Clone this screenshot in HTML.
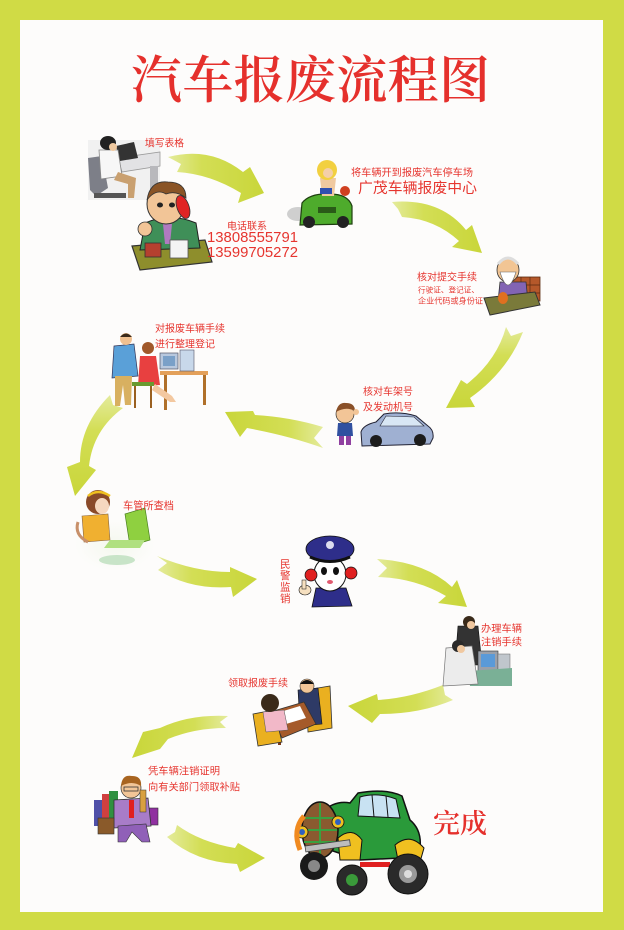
<!DOCTYPE html>
<html><head><meta charset="utf-8">
<style>
html,body{margin:0;padding:0;width:624px;height:930px;overflow:hidden;background:#d0db45;}
svg{position:absolute;left:0;top:0;}
.l{font-family:"Liberation Sans","WenQuanYi Zen Hei","Noto Sans CJK SC",sans-serif;fill:#e6352f;}
.t{font-family:"Liberation Serif","Noto Serif CJK SC",serif;fill:#e5302c;font-weight:600;}
</style></head><body>
<svg width="624" height="930" viewBox="0 0 624 930" xmlns="http://www.w3.org/2000/svg">
<defs>
<linearGradient id="ga" x1="0" y1="0" x2="1" y2="0"><stop offset="0" stop-color="#e4eb9c"/><stop offset="0.35" stop-color="#d3de55"/><stop offset="1" stop-color="#c9d63a"/></linearGradient>
<linearGradient id="gb" x1="1" y1="0" x2="0" y2="0"><stop offset="0" stop-color="#e4eb9c"/><stop offset="0.35" stop-color="#d3de55"/><stop offset="1" stop-color="#c9d63a"/></linearGradient>
<linearGradient id="gc" x1="0" y1="0" x2="0" y2="1"><stop offset="0" stop-color="#e4eb9c"/><stop offset="0.35" stop-color="#d3de55"/><stop offset="1" stop-color="#c9d63a"/></linearGradient>
<radialGradient id="sw" cx="0.5" cy="0.5" r="0.5"><stop offset="0" stop-color="#f4f8ee"/><stop offset="1" stop-color="#fdfcfb"/></radialGradient>
</defs>
<!-- frame -->
<rect x="0" y="0" width="624" height="930" fill="#d0db45"/>
<rect x="20" y="20" width="583" height="892" fill="#fdfcfb"/>

<!-- title -->
<text class="t" x="131" y="98" font-size="51" textLength="359" lengthAdjust="spacing">汽车报废流程图</text>

<!-- arrows -->
<path d="M168,157 Q210,146 243,172 L250,167 L264,193 L238,203 L241,193 Q210,174 177,172 L181,164 Z" fill="url(#ga)"/>
<path d="M392,202 Q440,198 466,230 L472,225 L482,253 L452,247 L459,241 Q435,219 402,217 L398,209 Z" fill="url(#ga)"/>
<path d="M506,327 Q497,360 467,384 L461,380 L446,408 L475,407 L470,398 Q507,372 523,332 L511,336 Z" fill="url(#gc)"/>
<path d="M323,427 Q290,417 255,415 L253,411 L225,412 L240,437 L247,428 Q290,436 323,448 L314,438 Z" fill="url(#gb)"/>
<path d="M110,395 Q80,425 80,462 L67,467 L75,496 L96,470 L89,466 Q93,430 123,408 L113,405 Z" fill="url(#gc)"/>
<path d="M157,556 Q195,572 230,572 L230,567 L257,579 L233,597 L231,587 Q190,590 158,570 L167,563 Z" fill="url(#ga)"/>
<path d="M377,559 Q425,562 452,587 L457,580 L467,607 L438,603 L446,596 Q415,578 378,577 L387,568 Z" fill="url(#ga)"/>
<path d="M443,685 Q410,698 378,700 L377,694 L348,706 L372,723 L380,714 Q420,714 453,700 L445,695 Z" fill="url(#gb)"/>
<path d="M228,716 Q190,714 160,728 L143,732 L132,758 L160,749 L168,739 Q195,728 226,728 L220,722 Z" fill="url(#gb)"/>
<path d="M177,825 Q200,842 235,848 L238,843 L265,858 L240,872 L237,864 Q195,862 167,837 L175,832 Z" fill="url(#ga)"/>

<!-- clipart 1: woman at computer -->
<g>
<rect x="88" y="140" width="72" height="60" fill="#f1f1f1"/>
<polygon points="118,158 160,152 160,166 122,172" fill="#e2e2e4" stroke="#9a9a9a" stroke-width="0.8"/>
<rect x="150" y="166" width="8" height="30" fill="#b8b8bc"/>
<polygon points="116,146 134,142 138,158 120,161" fill="#333"/>
<polygon points="88,158 102,156 108,188 96,196 90,190" fill="#7d7f88"/>
<rect x="94" y="193" width="32" height="5" fill="#555"/>
<path d="M99,150 L118,150 L122,176 L101,179 Z" fill="#f7f7f7" stroke="#888" stroke-width="0.8"/>
<path d="M118,172 L136,178 L134,198 L128,198 L128,184 L114,180 Z" fill="#c9a070"/>
<ellipse cx="108" cy="143" rx="8" ry="7" fill="#222"/>
<ellipse cx="113" cy="147" rx="4" ry="4" fill="#efc9a0"/>
</g>

<!-- clipart 2: man on phone -->
<g>
<polygon points="132,246 205,240 212,262 140,270" fill="#8e8e2c" stroke="#333" stroke-width="1.2"/>
<path d="M145,223 Q170,212 196,223 L200,248 L140,250 Z" fill="#3f8f58" stroke="#222" stroke-width="1"/>
<polygon points="163,224 172,224 170,244 165,244" fill="#b07ac0"/>
<ellipse cx="166" cy="204" rx="19" ry="20" fill="#f2c597" stroke="#333" stroke-width="1"/>
<path d="M147,200 Q150,180 168,182 Q186,182 186,198 Q176,190 166,194 Q156,188 147,200 Z" fill="#8a5426" stroke="#333" stroke-width="0.8"/>
<ellipse cx="160" cy="205" rx="3" ry="2.5" fill="#222"/>
<ellipse cx="172" cy="205" rx="3" ry="2.5" fill="#222"/>
<ellipse cx="183" cy="207" rx="6" ry="12" fill="#e02424" stroke="#333" stroke-width="0.8" transform="rotate(-20 183 207)"/>
<circle cx="145" cy="229" r="7" fill="#f2c597" stroke="#333" stroke-width="0.8"/>
<rect x="145" y="243" width="16" height="14" fill="#b5402f" stroke="#333" stroke-width="0.8"/>
<rect x="170" y="240" width="18" height="18" fill="#f4f4f4" stroke="#555" stroke-width="0.8"/>
</g>

<!-- clipart 3: car with girls -->
<g>
<ellipse cx="298" cy="214" rx="11" ry="7" fill="#cfcfcf"/>
<path d="M302,203 Q310,193 330,194 Q348,194 352,206 L352,224 L300,225 Z" fill="#4eab2c" stroke="#1f3f10" stroke-width="1.2"/>
<rect x="318" y="207" width="18" height="6" fill="#2a5a18"/>
<circle cx="309" cy="222" r="6" fill="#222"/>
<circle cx="343" cy="222" r="6" fill="#222"/>
<path d="M320,178 L336,178 L334,196 L322,196 Z" fill="#f0c9a0"/>
<rect x="320" y="188" width="12" height="6" fill="#3050b0"/>
<ellipse cx="327" cy="170" rx="10" ry="10" fill="#f2d040"/>
<ellipse cx="328" cy="173" rx="5" ry="5" fill="#f4cfa8"/>
<circle cx="345" cy="191" r="5" fill="#d04020"/>
</g>

<!-- clipart 4: old man at desk -->
<g>
<rect x="512" y="277" width="28" height="24" fill="#b5582a" stroke="#5a2a10" stroke-width="0.8"/>
<path d="M512,285 H540 M512,293 H540 M521,277 V301 M530,277 V301" stroke="#5a2a10" stroke-width="0.7"/>
<path d="M500,282 L526,282 L528,302 L498,302 Z" fill="#8264b4" stroke="#333" stroke-width="0.8"/>
<ellipse cx="508" cy="270" rx="11" ry="12" fill="#f2c594" stroke="#333" stroke-width="0.8"/>
<path d="M500,272 Q508,298 516,272 Z" fill="#fff" stroke="#666" stroke-width="0.6"/>
<path d="M498,264 Q508,252 518,264" fill="none" stroke="#ddd" stroke-width="3"/>
<polygon points="484,298 535,292 540,305 490,315" fill="#7a7a3a" stroke="#333" stroke-width="1"/>
<ellipse cx="503" cy="298" rx="5" ry="6" fill="#e07020"/>
</g>

<!-- clipart 5: boy + car -->
<g>
<path d="M338,423 L352,423 L353,436 L337,436 Z" fill="#3050a0"/>
<rect x="339" y="436" width="5" height="9" fill="#9040a0"/>
<rect x="346" y="436" width="5" height="9" fill="#9040a0"/>
<circle cx="345" cy="414" r="9" fill="#f2c597" stroke="#333" stroke-width="0.7"/>
<path d="M336,412 Q338,402 346,403 Q355,403 355,411 Q346,406 336,412 Z" fill="#8a5028"/>
<circle cx="356" cy="412" r="3" fill="#f2c597"/>
<path d="M361,432 Q363,425 376,422 L384,414 Q400,411 416,416 L428,426 Q434,430 433,438 L430,444 L362,446 Z" fill="#9fb0d2" stroke="#223" stroke-width="1"/>
<path d="M386,416 L414,417 L424,426 L380,426 Z" fill="#d8e6f4" stroke="#223" stroke-width="0.6"/>
<circle cx="376" cy="441" r="6" fill="#1c1c1c"/>
<circle cx="420" cy="440" r="6" fill="#1c1c1c"/>
</g>

<!-- clipart 6: two people at computer -->
<g>
<rect x="160" y="371" width="48" height="4" fill="#e3a05a"/>
<rect x="164" y="375" width="3" height="35" fill="#b0702a"/>
<rect x="203" y="375" width="3" height="30" fill="#b0702a"/>
<rect x="160" y="353" width="18" height="16" fill="#b8c8de" stroke="#556" stroke-width="0.7"/>
<rect x="163" y="356" width="12" height="10" fill="#7aa0c8"/>
<rect x="180" y="350" width="14" height="21" fill="#c8d8ea" stroke="#556" stroke-width="0.6"/>
<path d="M114,346 L134,344 L138,376 L112,378 Z" fill="#5aa0d8" stroke="#335" stroke-width="0.7"/>
<path d="M115,376 L132,376 L131,405 L125,405 L123,385 L120,406 L115,406 Z" fill="#d8b060"/>
<circle cx="126" cy="339" r="6" fill="#f0c090"/>
<path d="M120,337 Q126,330 132,337 Z" fill="#3a2a1a"/>
<path d="M140,356 L156,356 L160,385 L138,386 Z" fill="#e84040"/>
<rect x="132" y="382" width="22" height="4" fill="#6a9a30"/>
<rect x="134" y="386" width="2" height="22" fill="#9a6020"/>
<rect x="150" y="386" width="2" height="22" fill="#9a6020"/>
<path d="M155,384 L172,396 L176,402 L170,402 L152,390 Z" fill="#f3c8a0"/>
<circle cx="148" cy="348" r="6" fill="#a0582a"/>
</g>

<!-- clipart 7: girl at computer -->
<g>
<ellipse cx="115" cy="545" rx="40" ry="26" fill="url(#sw)"/>
<path d="M82,516 L108,514 L110,540 L84,542 Z" fill="#f0b030" stroke="#864" stroke-width="0.6"/>
<path d="M78,522 Q74,535 88,542" fill="none" stroke="#c8906a" stroke-width="3"/>
<circle cx="98" cy="502" r="12" fill="#8a4a2a"/>
<ellipse cx="102" cy="506" rx="7" ry="8" fill="#f6d8c0"/>
<path d="M88,496 Q98,488 110,496" fill="none" stroke="#f0c020" stroke-width="2.5"/>
<polygon points="125,514 145,508 150,540 130,546" fill="#8fd040" stroke="#4a8020" stroke-width="0.7"/>
<polygon points="110,540 145,540 140,548 104,548" fill="#b0e080"/>
<ellipse cx="117" cy="560" rx="18" ry="5" fill="#c8e4c8"/>
</g>

<!-- clipart 8: policeman -->
<g>
<path d="M316,588 L346,588 L352,606 L312,607 Z" fill="#2e2e8a" stroke="#111" stroke-width="0.8"/>
<ellipse cx="330" cy="574" rx="16" ry="17" fill="#fff" stroke="#111" stroke-width="1"/>
<ellipse cx="324" cy="571" rx="3" ry="4" fill="#111"/>
<ellipse cx="336" cy="571" rx="3" ry="4" fill="#111"/>
<ellipse cx="330" cy="582" rx="3" ry="2" fill="#e05a70"/>
<circle cx="311" cy="575" r="6" fill="#e02020" stroke="#111" stroke-width="0.7"/>
<circle cx="351" cy="573" r="6" fill="#e02020" stroke="#111" stroke-width="0.7"/>
<ellipse cx="330" cy="549" rx="24" ry="13" fill="#2e2e8a" stroke="#111" stroke-width="0.8"/>
<path d="M310,557 Q330,566 350,557" fill="none" stroke="#111" stroke-width="3"/>
<circle cx="330" cy="545" r="4" fill="#dde"/>
<ellipse cx="305" cy="590" rx="6" ry="5" fill="#f6e0c0" stroke="#111" stroke-width="0.6"/>
<rect x="302" y="580" width="4" height="9" fill="#f6e0c0" stroke="#111" stroke-width="0.5"/>
</g>

<!-- clipart 9: office -->
<g>
<path d="M458,626 L478,626 L482,665 L455,665 Z" fill="#333" stroke="#111" stroke-width="0.6"/>
<circle cx="469" cy="622" r="6" fill="#3a2a1a"/>
<ellipse cx="471" cy="625" rx="4" ry="4" fill="#f0c8a0"/>
<rect x="478" y="651" width="20" height="20" fill="#9aa0aa" stroke="#333" stroke-width="0.6"/>
<rect x="481" y="654" width="14" height="13" fill="#5a9ad8"/>
<rect x="498" y="654" width="12" height="20" fill="#c0c6cc" stroke="#666" stroke-width="0.5"/>
<polygon points="468,671 512,668 512,686 470,686" fill="#7ab096"/>
<path d="M446,648 L472,646 L478,684 L443,686 Z" fill="#ececec" stroke="#777" stroke-width="0.7"/>
<circle cx="458" cy="646" r="6" fill="#2a2a2a"/>
<ellipse cx="461" cy="649" rx="4" ry="4" fill="#f0c8a0"/>
</g>

<!-- clipart 10: meeting -->
<g>
<path d="M306,690 L330,686 L332,728 L308,732 Z" fill="#eab020" stroke="#333" stroke-width="0.8"/>
<path d="M298,690 L318,688 L322,724 L300,726 Z" fill="#2e3a66" stroke="#111" stroke-width="0.6"/>
<circle cx="307" cy="686" r="7" fill="#f2c597" stroke="#333" stroke-width="0.6"/>
<path d="M300,684 Q307,676 314,684 Z" fill="#111"/>
<polygon points="270,712 304,702 316,724 282,738" fill="#a55a2a" stroke="#333" stroke-width="0.8"/>
<polygon points="280,712 300,706 306,718 286,724" fill="#fff"/>
<rect x="278" y="735" width="3" height="10" fill="#7a3a1a"/>
<path d="M253,714 L274,710 L282,742 L258,746 Z" fill="#eab020" stroke="#333" stroke-width="0.8"/>
<path d="M263,712 L284,710 L288,730 L266,732 Z" fill="#f2b8c8" stroke="#555" stroke-width="0.5"/>
<circle cx="270" cy="703" r="9" fill="#3a2a1a"/>
</g>

<!-- clipart 11: businessman -->
<g>
<rect x="94" y="800" width="11" height="26" fill="#5050a8"/>
<rect x="102" y="794" width="10" height="30" fill="#d04040"/>
<rect x="109" y="791" width="9" height="30" fill="#309040"/>
<rect x="140" y="808" width="18" height="17" fill="#9030a0" stroke="#333" stroke-width="0.6"/>
<path d="M114,800 L148,798 L151,826 L114,828 Z" fill="#a87cc8" stroke="#333" stroke-width="0.8"/>
<path d="M118,826 L146,824 L150,842 L142,842 L132,832 L126,842 L118,842 Z" fill="#9060b8" stroke="#333" stroke-width="0.6"/>
<rect x="129" y="800" width="5" height="18" fill="#e02020"/>
<circle cx="131" cy="788" r="10" fill="#f2c597" stroke="#333" stroke-width="0.7"/>
<path d="M121,786 Q122,774 132,776 Q142,776 141,786 Q132,780 121,786 Z" fill="#a86420"/>
<rect x="124" y="787" width="14" height="4" fill="none" stroke="#333" stroke-width="0.8"/>
<rect x="98" y="818" width="16" height="16" fill="#8a5a2a" stroke="#333" stroke-width="0.6"/>
<rect x="140" y="790" width="6" height="22" fill="#d8a040" stroke="#333" stroke-width="0.5"/>
</g>

<!-- clipart 12: green car -->
<g>
<path d="M322,812 Q335,800 350,803 L358,793 Q385,788 402,796 L410,820 Q422,830 420,848 L400,858 L360,860 L330,850 Z" fill="#2a9a3a" stroke="#111" stroke-width="1.5"/>
<path d="M360,797 Q378,792 396,799 L400,818 L358,816 Z" fill="#c8e2f2" stroke="#111" stroke-width="1"/>
<path d="M372,795 L374,817 M386,796 L388,817" stroke="#111" stroke-width="1"/>
<ellipse cx="320" cy="830" rx="18" ry="28" fill="#8a5a30" stroke="#111" stroke-width="1.5"/>
<path d="M304,818 H336 M303,830 H337 M304,842 H336 M320,803 V857" stroke="#3aa040" stroke-width="2"/>
<circle cx="302" cy="832" r="6" fill="#f0c020" stroke="#111" stroke-width="0.8"/>
<circle cx="302" cy="832" r="3" fill="#3060c0"/>
<circle cx="338" cy="822" r="6" fill="#f0c020" stroke="#111" stroke-width="0.8"/>
<circle cx="338" cy="822" r="3" fill="#3060c0"/>
<path d="M338,838 Q352,826 362,840 L360,860 L340,860 Z" fill="#f0c020" stroke="#111" stroke-width="1"/>
<path d="M395,845 Q410,832 424,848 L420,862 L398,860 Z" fill="#f0c020" stroke="#111" stroke-width="1"/>
<path d="M300,850 Q292,830 304,816" fill="none" stroke="#f08a20" stroke-width="5"/>
<rect x="305" y="846" width="45" height="6" fill="#bdbdbd" stroke="#444" stroke-width="0.8" transform="rotate(-8 305 846)"/>
<circle cx="314" cy="866" r="14" fill="#1a1a1a"/>
<circle cx="314" cy="866" r="6" fill="#888"/>
<circle cx="352" cy="880" r="15" fill="#2a2a2a" stroke="#111" stroke-width="1"/>
<circle cx="352" cy="880" r="6" fill="#3a9a3a"/>
<rect x="360" y="862" width="30" height="5" fill="#e02020"/>
<circle cx="408" cy="874" r="20" fill="#2a2a2a" stroke="#111" stroke-width="1"/>
<circle cx="408" cy="874" r="9" fill="#999"/>
<circle cx="408" cy="874" r="4" fill="#ddd"/>
</g>

<!-- labels -->
<text class="l" x="145" y="146.5" font-size="10" textLength="39" lengthAdjust="spacingAndGlyphs">填写表格</text>
<text class="l" x="227" y="229.5" font-size="10" textLength="40" lengthAdjust="spacingAndGlyphs">电话联系</text>
<text class="l" x="207" y="242" font-size="15" textLength="91" lengthAdjust="spacingAndGlyphs">13808555791</text>
<text class="l" x="207" y="257" font-size="15" textLength="91" lengthAdjust="spacingAndGlyphs">13599705272</text>
<text class="l" x="351" y="176" font-size="10" textLength="122" lengthAdjust="spacingAndGlyphs">将车辆开到报废汽车停车场</text>
<text class="l" x="358" y="193" font-size="14.5" textLength="119" lengthAdjust="spacingAndGlyphs">广茂车辆报废中心</text>
<text class="l" x="417" y="280.5" font-size="10" textLength="60" lengthAdjust="spacingAndGlyphs">核对提交手续</text>
<text class="l" x="418" y="292.5" font-size="7.6" textLength="61" lengthAdjust="spacingAndGlyphs">行驶证、登记证、</text>
<text class="l" x="418" y="303.5" font-size="8" textLength="65" lengthAdjust="spacingAndGlyphs">企业代码或身份证</text>
<text class="l" x="155" y="332" font-size="10" textLength="70" lengthAdjust="spacingAndGlyphs">对报废车辆手续</text>
<text class="l" x="155" y="347.5" font-size="10" textLength="60" lengthAdjust="spacingAndGlyphs">进行整理登记</text>
<text class="l" x="363" y="395" font-size="10" textLength="50" lengthAdjust="spacingAndGlyphs">核对车架号</text>
<text class="l" x="363" y="410.5" font-size="10" textLength="50" lengthAdjust="spacingAndGlyphs">及发动机号</text>
<text class="l" x="123" y="509" font-size="10.5" textLength="51" lengthAdjust="spacingAndGlyphs">车管所查档</text>
<text class="l" x="280" y="567.5" font-size="10.5">民</text>
<text class="l" x="280" y="579" font-size="10.5">警</text>
<text class="l" x="280" y="590.5" font-size="10.5">监</text>
<text class="l" x="280" y="602" font-size="10.5">销</text>
<text class="l" x="481" y="632" font-size="10" textLength="41" lengthAdjust="spacingAndGlyphs">办理车辆</text>
<text class="l" x="481" y="645.5" font-size="10" textLength="41" lengthAdjust="spacingAndGlyphs">注销手续</text>
<text class="l" x="228" y="686.5" font-size="10" textLength="60" lengthAdjust="spacingAndGlyphs">领取报废手续</text>
<text class="l" x="148" y="774.5" font-size="10" textLength="72" lengthAdjust="spacingAndGlyphs">凭车辆注销证明</text>
<text class="l" x="148" y="790.5" font-size="10" textLength="92" lengthAdjust="spacingAndGlyphs">向有关部门领取补贴</text>
<text class="t" x="433" y="833" font-size="27" textLength="54" lengthAdjust="spacingAndGlyphs">完成</text>
</svg>
</body></html>
